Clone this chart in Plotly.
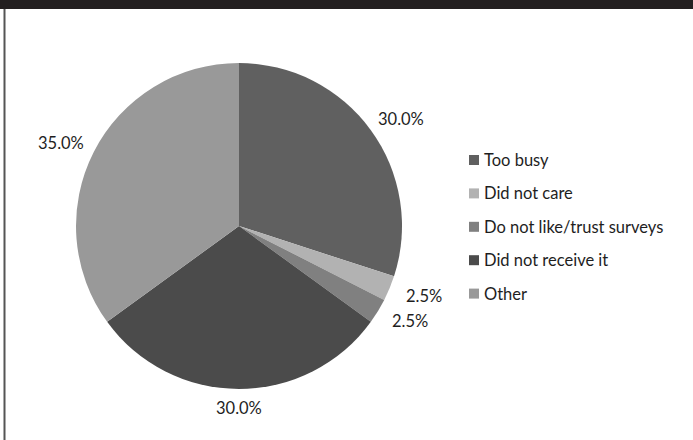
import math
import plotly.graph_objects as go

categories = ["Too busy", "Did not care", "Do not like/trust surveys", "Did not receive it", "Other"]
values = [30.0, 2.5, 2.5, 30.0, 35.0]
colors = ["#606060", "#b2b2b2", "#808080", "#4b4b4b", "#999999"]

W, H = 693, 440
cx, cy, R = 239, 226, 163
FONT = "Lato, Open Sans, sans-serif"
TXT = "#1e1e1e"
FS = 16.5

fig = go.Figure()
fig.add_trace(go.Pie(
    labels=categories, values=values, sort=False, direction="clockwise", rotation=0,
    marker=dict(colors=colors, line=dict(width=0)), textinfo="none", hoverinfo="label+percent",
    showlegend=False,
    domain=dict(x=[(cx - R) / W, (cx + R) / W], y=[1 - (cy + R) / H, 1 - (cy - R) / H]),
))

def px2x(p):
    return p / W

def px2y(p):
    return 1 - p / H

# data labels
total = sum(values)
cum = 0
annotations = []
shapes = []
for v in values:
    mid = (cum + v / 2) / total * 2 * math.pi
    cum += v
    s, c = math.sin(mid), -math.cos(mid)
    lx, ly = cx + (R + 37) * s, cy + (R + 19) * c
    annotations.append(dict(x=px2x(lx), y=px2y(ly), xref="paper", yref="paper",
                            text=f"{v / total * 100:.1f}%", showarrow=False,
                            xanchor="center", yanchor="middle",
                            font=dict(size=FS, color=TXT, family=FONT)))

# manual legend
leg_x, leg_y0, leg_dy, sq = 469, 160, 33.4, 10
for i, (cat, col) in enumerate(zip(categories, colors)):
    yc = leg_y0 + i * leg_dy
    shapes.append(dict(type="rect", xref="paper", yref="paper",
                       x0=px2x(leg_x), x1=px2x(leg_x + sq),
                       y0=px2y(yc + sq / 2), y1=px2y(yc - sq / 2),
                       fillcolor=col, line=dict(width=0)))
    annotations.append(dict(x=px2x(leg_x + sq + 3), y=px2y(yc), xref="paper", yref="paper",
                            text=cat, showarrow=False, xanchor="left", yanchor="middle",
                            font=dict(size=FS, color=TXT, family=FONT)))

shapes += [
    dict(type="rect", xref="paper", yref="paper", x0=0, x1=1, y0=px2y(9), y1=1,
         fillcolor="#231f20", line=dict(width=0)),
    dict(type="line", xref="paper", yref="paper", x0=px2x(4.5), x1=px2x(4.5), y0=0, y1=px2y(9),
         line=dict(color="#555555", width=2)),
]

fig.update_layout(
    width=W, height=H, margin=dict(l=0, r=0, t=0, b=0),
    paper_bgcolor="white", plot_bgcolor="white",
    font=dict(family=FONT, size=FS, color=TXT),
    showlegend=False,
    annotations=annotations,
    shapes=shapes,
)
fig.write_html("out.html", config={"displayModeBar": False},
               post_script="document.body.style.margin='0px';document.body.style.overflow='hidden';")
